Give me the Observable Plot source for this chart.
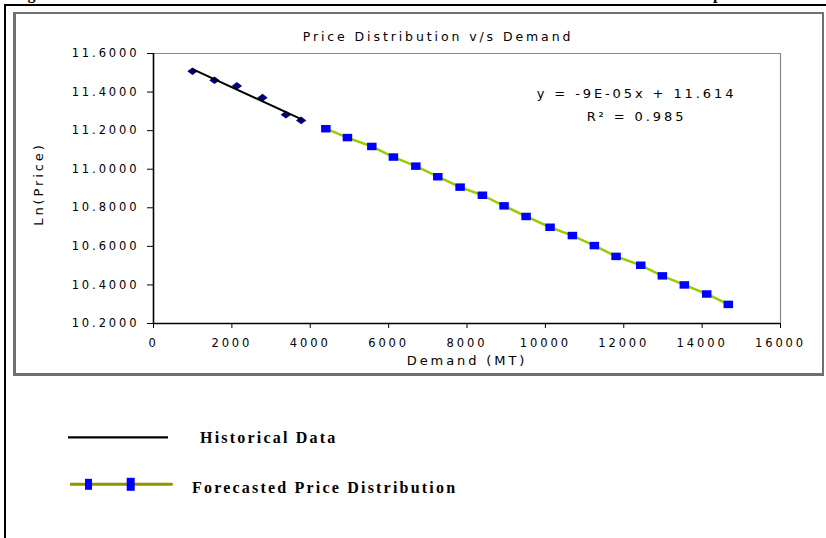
<!DOCTYPE html>
<html><head><meta charset="utf-8">
<script src="https://cdn.jsdelivr.net/npm/d3@7"></script>
<script src="https://cdn.jsdelivr.net/npm/@observablehq/plot@0.6"></script>
<style>
html,body{margin:0;padding:0;background:#fff;}
#wrap{position:relative;width:826px;height:538px;overflow:hidden;background:#fff;}
#outer{position:absolute;left:4px;top:4px;width:900px;height:600px;border:2.5px solid #000;box-sizing:border-box;}
#inner{position:absolute;left:13px;top:12px;width:811px;height:364px;border:2px solid #707070;border-left-width:3px;border-bottom-width:3px;box-sizing:border-box;background:#fff;}
#chart{position:absolute;left:0;top:0;}
#legend{position:absolute;left:0;top:380px;}
#figtitle{position:absolute;left:0;top:0;overflow:hidden;}
#chart text{letter-spacing:2.9px;}
#chart g[aria-label="title"] text{letter-spacing:3.7px;}
#chart g[aria-label="equation"] text{letter-spacing:3.4px;}
#chart g[aria-label="x-label"] text{letter-spacing:2px;}
#chart g[aria-label="y-label"] text{letter-spacing:0.8px;}
.leg{font-family:'Liberation Serif','Times New Roman',serif;font-weight:bold;font-size:16px;letter-spacing:2.2px;fill:#000;}
</style>
</head><body>
<div id="wrap">
  <div id="outer"></div>
  <div id="inner"></div>
  <div id="chart"></div>
  <svg id="figtitle" width="826" height="6"></svg>
  <svg id="legend" width="826" height="158"></svg>
</div>
<script>
// ---- data ----
const histDemand = [995, 1556, 2128, 2781, 3378, 3768];
const histLnPrice = [11.508, 11.461, 11.432, 11.371, 11.283, 11.253];
const fcDemand = [4398, 4949, 5571, 6122, 6694, 7255, 7824, 8393, 8946, 9508, 10120, 10689, 11250, 11804, 12434, 12985, 13546, 14117, 14668];
const fcLnPrice = [11.210, 11.164, 11.118, 11.063, 11.016, 10.961, 10.907, 10.865, 10.810, 10.755, 10.699, 10.656, 10.604, 10.548, 10.502, 10.447, 10.400, 10.353, 10.299];
const xTicks = [0, 2000, 4000, 6000, 8000, 10000, 12000, 14000, 16000];
const yTicks = [10.2, 10.4, 10.6, 10.8, 11.0, 11.2, 11.4, 11.6];
const chartTitle = "Price Distribution v/s Demand";
const xLabel = "Demand (MT)";
const yLabel = "Ln(Price)";
const eqLine1 = "y = -9E-05x + 11.614";
const eqLine2 = "R² = 0.985";
const legendLabels = ["Historical Data", "Forecasted Price Distribution"];
const figCaption = "Figure 3: Historical and Forecasted Price Distribution vs. Demand Relationship";

const hist = histDemand.map((d, i) => ({demand: d, lnPrice: histLnPrice[i]}));
const fc = fcDemand.map((d, i) => ({demand: d, lnPrice: fcLnPrice[i]}));

const wideSquare = {draw(ctx) { const w = 9.5, h = 7.5; ctx.rect(-w / 2, -h / 2, w, h); }};
const wideDiamond = {draw(ctx) { const w = 5.2, h = 3.8; ctx.moveTo(-w, 0); ctx.lineTo(0, -h); ctx.lineTo(w, 0); ctx.lineTo(0, h); ctx.closePath(); }};

const txt = {textAnchor: "middle", lineAnchor: "middle"};

const chart = Plot.plot({
  width: 826, height: 380,
  marginLeft: 153, marginRight: 46, marginTop: 53, marginBottom: 57,
  style: {background: "transparent", fontFamily: "'DejaVu Sans', 'Liberation Sans', sans-serif", fontSize: "11.5px", color: "#000", overflow: "visible"},
  x: {domain: [xTicks[0], xTicks[xTicks.length - 1]], ticks: xTicks, tickFormat: "d", tickSize: 5, tickPadding: 10, label: null},
  y: {domain: [yTicks[0], yTicks[yTicks.length - 1]], ticks: yTicks, tickFormat: ".4f", tickSize: 6, tickPadding: 8, label: null},
  marks: [
    Plot.ruleY([yTicks[yTicks.length - 1]], {stroke: "#8a8a8a", strokeWidth: 1.2}),
    Plot.ruleX([xTicks[xTicks.length - 1]], {stroke: "#8a8a8a", strokeWidth: 1.2}),
    Plot.ruleX([xTicks[0]], {stroke: "#000", strokeWidth: 1.6}),
    Plot.ruleY([yTicks[0]], {stroke: "#000", strokeWidth: 1.6}),
    Plot.line(fc, {x: "demand", y: "lnPrice", stroke: "#99CC00", strokeWidth: 2.5}),
    Plot.dot(fc, {x: "demand", y: "lnPrice", symbol: wideSquare, fill: "#0000FF", stroke: "none"}),
    Plot.dot(hist, {x: "demand", y: "lnPrice", symbol: wideDiamond, fill: "#000080", stroke: "none"}),
    Plot.linearRegressionY(hist, {x: "demand", y: "lnPrice", stroke: "#000", strokeWidth: 2, ci: 0}),
    Plot.text([chartTitle], {...txt, text: d => d, frameAnchor: "top", dx: -29, dy: -17, fontSize: 12.5, ariaLabel: "title"}),
    Plot.text([eqLine1], {...txt, text: d => d, frameAnchor: "top-left", dx: 483, dy: 40.5, fontSize: 13, ariaLabel: "equation"}),
    Plot.text([eqLine2], {...txt, text: d => d, frameAnchor: "top-left", dx: 483, dy: 63.5, fontSize: 13, ariaLabel: "equation"}),
    Plot.text([xLabel], {...txt, text: d => d, frameAnchor: "bottom", dx: 0, dy: 37, fontSize: 13, ariaLabel: "x-label"}),
    Plot.text([yLabel], {...txt, text: d => d, frameAnchor: "left", dx: -115, dy: -4.5, rotate: -90, fontSize: 13, ariaLabel: "y-label"})
  ]
});
document.getElementById("chart").appendChild(chart);

// cropped figure caption at the very top
const ft = d3.select("#figtitle");
ft.append("text").attr("x", 9).attr("y", -1).attr("class", "leg").text(figCaption);

// legend below the chart box
const lg = d3.select("#legend");
lg.append("line").attr("x1", 68).attr("x2", 168).attr("y1", 57.3).attr("y2", 57.3).attr("stroke", "#000").attr("stroke-width", 2.2);
lg.append("text").attr("x", 200).attr("y", 63.3).attr("class", "leg").text(legendLabels[0]);
lg.append("line").attr("x1", 70).attr("x2", 172.7).attr("y1", 104.3).attr("y2", 104.3).attr("stroke", "#929200").attr("stroke-width", 3);
lg.append("rect").attr("x", 85).attr("y", 98.8).attr("width", 7).attr("height", 11).attr("fill", "#0000FF");
lg.append("rect").attr("x", 126.7).attr("y", 97.8).attr("width", 8).attr("height", 13).attr("fill", "#0000FF");
lg.append("text").attr("x", 192).attr("y", 113.3).attr("class", "leg").text(legendLabels[1]);
</script>
</body></html>
